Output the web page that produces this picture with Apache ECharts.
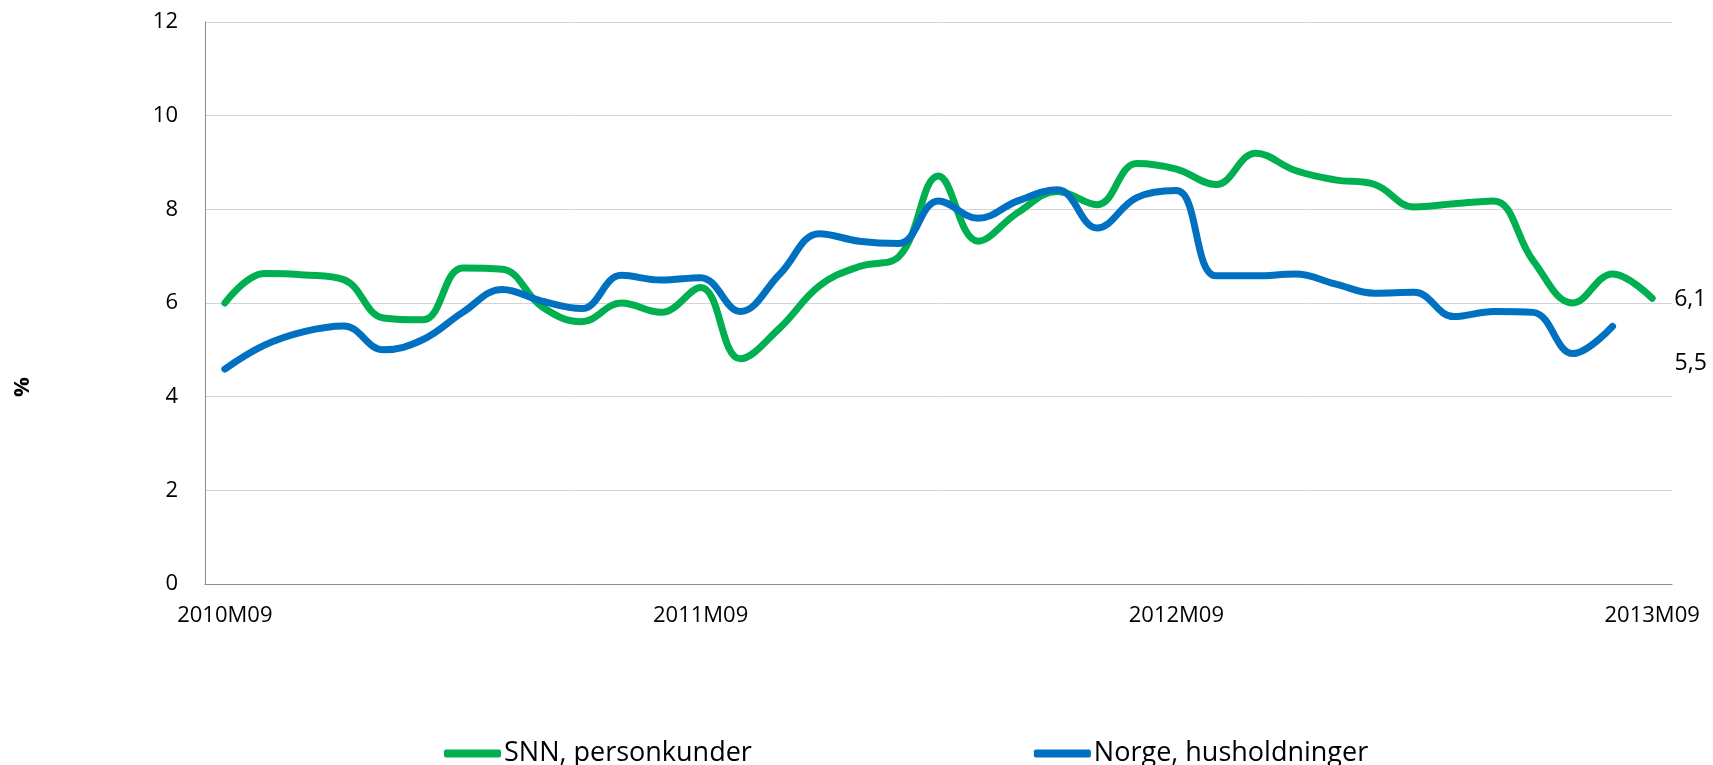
<!DOCTYPE html>
<html>
<head>
<meta charset="utf-8">
<title>Utlånsvekst</title>
<script src="https://cdn.jsdelivr.net/npm/echarts@6/dist/echarts.min.js"></script>
<style>
  html, body { margin: 0; padding: 0; background: #fff; }
  #main { width: 1713px; height: 765px; }
</style>
</head>
<body>
<div id="main"></div>
<script>
var months = [
  '2010M09', '2010M10', '2010M11', '2010M12', '2011M01', '2011M02', '2011M03', '2011M04',
  '2011M05', '2011M06', '2011M07', '2011M08', '2011M09', '2011M10', '2011M11', '2011M12',
  '2012M01', '2012M02', '2012M03', '2012M04', '2012M05', '2012M06', '2012M07', '2012M08',
  '2012M09', '2012M10', '2012M11', '2012M12', '2013M01', '2013M02', '2013M03', '2013M04',
  '2013M05', '2013M06', '2013M07', '2013M08', '2013M09'
];

// SNN, personkunder
var snn = [
  6.0, 6.63, 6.6, 6.5, 5.68, 5.64, 6.75, 6.72, 5.92, 5.6, 6.0, 5.8,
  6.33, 4.81, 5.47, 6.37, 6.78, 6.99, 8.71, 7.32, 7.93, 8.38, 8.1, 8.98,
  8.86, 8.53, 9.2, 8.83, 8.63, 8.53, 8.05, 8.12, 8.18, 6.9, 6.0, 6.62, 6.1
];

// Norge, husholdninger (siste måned mangler)
var norge = [
  4.59, 5.1, 5.39, 5.51, 5.0, 5.22, 5.8, 6.29, 6.04, 5.88, 6.59, 6.49,
  6.54, 5.82, 6.62, 7.48, 7.32, 7.27, 8.18, 7.81, 8.18, 8.42, 7.6, 8.25,
  8.4, 6.58, 6.58, 6.62, 6.41, 6.21, 6.23, 5.71, 5.82, 5.8, 4.92, 5.5
];

var seriesNames = ['SNN, personkunder', 'Norge, husholdninger'];
var fontName = '"Open Sans", "Liberation Sans", sans-serif';

var myChart = echarts.init(document.getElementById('main'));

// komma som desimalskilletegn
function comma(v) {
  return String(v).replace('.', ',');
}

var option = {
  animation: false,
  textStyle: { fontFamily: fontName },
  grid: { left: 205, right: 41, top: 22, bottom: 181 },
  legend: {
    data: seriesNames,
    left: 439,
    top: 735,
    itemWidth: 57,
    itemHeight: 8,
    itemGap: 282,
    icon: 'roundRect',
    textStyle: { fontSize: 27, color: '#000', fontFamily: fontName, padding: [0, 0, 0, -2] }
  },
  graphic: [{
    type: 'text',
    x: 23,
    y: 387,
    rotation: Math.PI / 2,
    style: {
      text: '%',
      font: 'bold 22px ' + fontName,
      fill: '#000',
      align: 'center',
      verticalAlign: 'middle'
    }
  }],
  xAxis: {
    type: 'category',
    data: months,
    boundaryGap: true,
    axisLine: { lineStyle: { color: '#8c8c8c', width: 1 } },
    axisTick: { show: false },
    axisLabel: { interval: 11, margin: 21, fontSize: 22, color: '#000' }
  },
  yAxis: {
    type: 'value',
    min: 0,
    max: 12,
    interval: 2,
    axisLine: { show: true, lineStyle: { color: '#8c8c8c', width: 1 } },
    axisTick: { show: false },
    axisLabel: { margin: 27, fontSize: 22, color: '#000' },
    splitLine: { lineStyle: { color: '#d4d4d4', width: 1 } }
  },
  series: [{
    name: seriesNames[0],
    type: 'line',
    data: snn,
    smooth: 0.4,
    symbol: 'none',
    color: '#00B050',
    lineStyle: { width: 7, cap: 'round', join: 'round' },
    endLabel: {
      show: true,
      distance: 5,
      offset: [17, 1],
      fontSize: 23,
      color: '#000',
      formatter: function(p) { return comma(p.value); }
    }
  }, {
    name: seriesNames[1],
    type: 'line',
    data: norge,
    smooth: 0.4,
    symbol: 'none',
    color: '#0070C0',
    lineStyle: { width: 7, cap: 'round', join: 'round' },
    endLabel: {
      show: true,
      distance: 5,
      offset: [57, 37],
      fontSize: 23,
      color: '#000',
      formatter: function(p) { return comma(p.value); }
    }
  }]
};

myChart.setOption(option);
</script>
</body>
</html>
